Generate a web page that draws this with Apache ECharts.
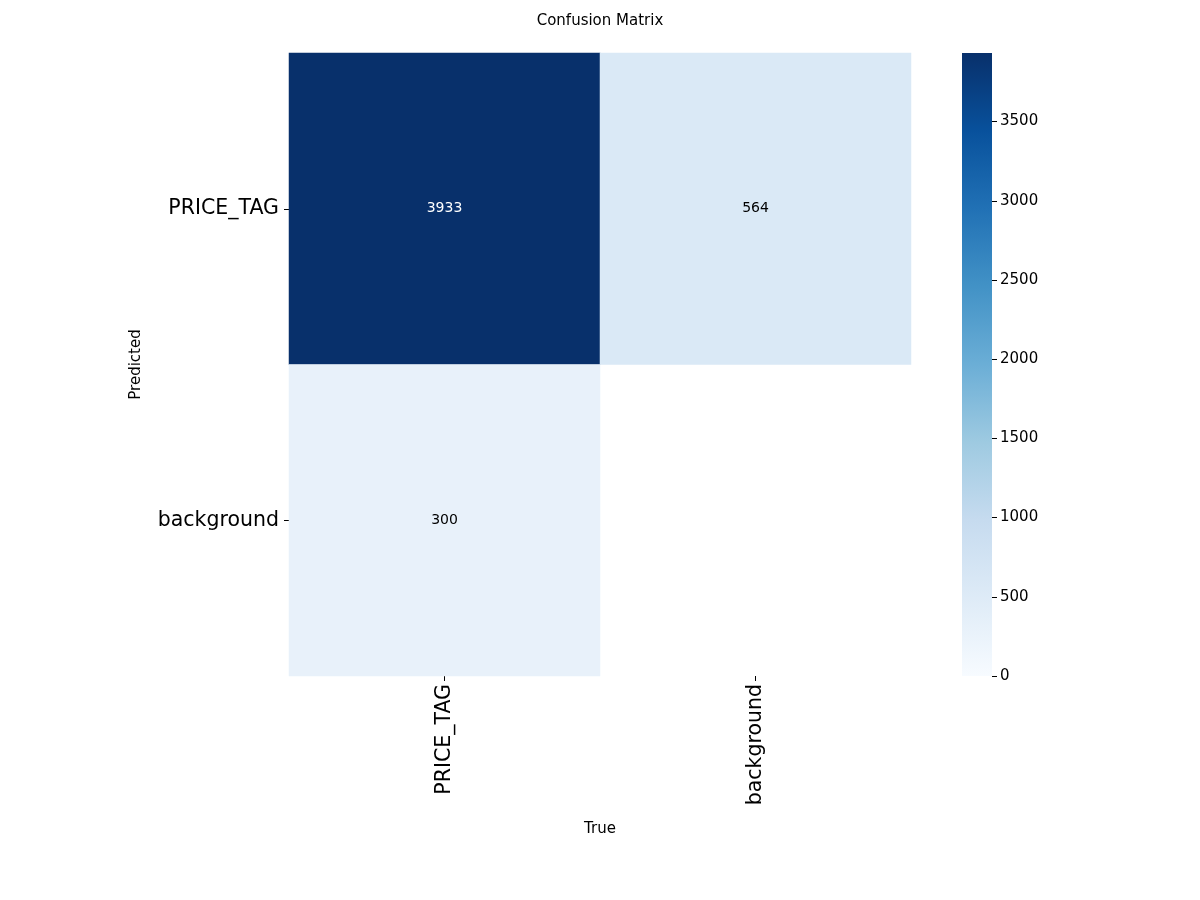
<!DOCTYPE html>
<html><head><meta charset="utf-8">
<script src="https://cdn.jsdelivr.net/npm/echarts@6/dist/echarts.min.js"></script>
<style>html,body{margin:0;padding:0;background:#fff}#c{width:1200px;height:900px}</style>
</head><body><div id="c"></div>
<script>
const trueLabels = ['PRICE_TAG', 'background'];
const predLabels = ['PRICE_TAG', 'background'];
// rows = predicted, cols = true; null = blank cell
const matrixRows = [
  [3933, 564],
  [300, null]
];
const colorbarTicks = [0, 500, 1000, 1500, 2000, 2500, 3000, 3500];
const vmax = 3933;
const blues = ['#f7fbff','#deebf7','#c6dbef','#9ecae1','#6baed6','#4292c6','#2171b5','#08519c','#08306b'];

const font = 'DejaVu Sans';
const cells = [];
matrixRows.forEach((row, r) => row.forEach((v, c) => {
  if (v === null) return;
  cells.push({ value: [c, r, v], label: { color: v > vmax * 0.55 ? '#ffffff' : '#000000' } });
}));

const chart = echarts.init(document.getElementById('c'));
chart.setOption({
  backgroundColor: '#fff',
  animation: false,
  title: { text: 'Confusion Matrix', left: 'center', top: 9,
    textStyle: { fontFamily: font, fontSize: 15, fontWeight: 'normal', color: '#000' } },
  grid: [
    { left: 289, right: 289, top: 53, bottom: 224 },
    { left: 962, width: 30, top: 53, bottom: 224 }
  ],
  xAxis: [
    { type: 'category', gridIndex: 0, data: trueLabels, name: 'True', nameLocation: 'middle', nameGap: 146,
      nameTextStyle: { fontFamily: font, fontSize: 15, color: '#000' },
      axisLine: { show: false }, axisTick: { show: true, alignWithLabel: true, length: 5, lineStyle: { color: '#000' } },
      axisLabel: { rotate: 90, fontFamily: font, fontSize: 20.5, color: '#000', margin: 8 },
      splitLine: { show: false } },
    { type: 'category', gridIndex: 1, data: ['cb'], show: false }
  ],
  yAxis: [
    { type: 'category', gridIndex: 0, data: predLabels, inverse: true, name: 'Predicted', nameLocation: 'middle', nameGap: 145,
      nameTextStyle: { fontFamily: font, fontSize: 15, color: '#000' },
      axisLine: { show: false }, axisTick: { show: true, alignWithLabel: true, length: 5, lineStyle: { color: '#000' } },
      axisLabel: { fontFamily: font, fontSize: 20.5, color: '#000', margin: 10 },
      splitLine: { show: false } },
    { type: 'value', gridIndex: 1, min: 0, max: vmax, position: 'right',
      axisLine: { show: false },
      axisTick: { show: true, length: 5, lineStyle: { color: '#000' }, customValues: colorbarTicks },
      axisLabel: { fontFamily: font, fontSize: 15, color: '#000', margin: 8, customValues: colorbarTicks,
        formatter: v => String(v) },
      splitLine: { show: false } }
  ],
  visualMap: { show: false, seriesIndex: 0, dimension: 2, min: 0, max: vmax, inRange: { color: blues } },
  series: [
    { type: 'heatmap', xAxisIndex: 0, yAxisIndex: 0, data: cells,
      label: { show: true, fontFamily: font, fontSize: 14, formatter: p => String(p.value[2]) },
      itemStyle: { borderWidth: 0 }, emphasis: { disabled: true } },
    { type: 'bar', xAxisIndex: 1, yAxisIndex: 1, data: [vmax], barWidth: '100%', silent: true,
      itemStyle: { color: new echarts.graphic.LinearGradient(0, 1, 0, 0,
        blues.map((c, i) => ({ offset: i / (blues.length - 1), color: c }))) } }
  ]
});
</script></body></html>
